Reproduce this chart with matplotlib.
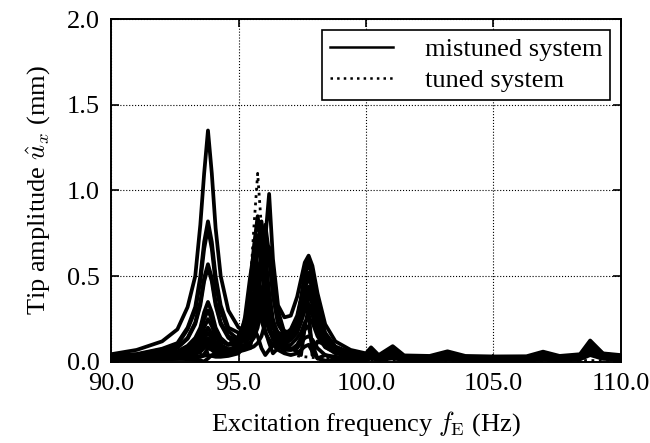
import matplotlib
matplotlib.use('Agg')
import matplotlib.pyplot as plt

# excitation frequency grid (Hz), finer around the resonances
freq = [90.0, 91.0, 92.0, 92.6, 93.0,
        93.3, 93.5, 93.65, 93.8, 93.95,
        94.1, 94.3, 94.6, 95.0, 95.25,
        95.45, 95.6, 95.75, 95.9, 96.05,
        96.2, 96.35, 96.55, 96.8, 97.05,
        97.3, 97.45, 97.6, 97.75, 97.9,
        98.1, 98.4, 98.8, 99.4, 100.0,
        100.2, 100.5, 101.05, 101.5, 102.5,
        103.2, 103.9, 105.0, 106.3, 106.95,
        107.6, 108.4, 108.8, 109.3, 110.0]

# tip amplitudes (mm) of the mistuned blades
blade1 = [0.045, 0.07, 0.12, 0.19, 0.32,
          0.5, 0.8, 1.1, 1.35, 1.1,
          0.78, 0.5, 0.3, 0.2, 0.18,
          0.2, 0.25, 0.28, 0.24, 0.17,
          0.13, 0.1, 0.095, 0.095, 0.1,
          0.14, 0.17, 0.23, 0.26, 0.23,
          0.15, 0.085, 0.055, 0.04, 0.035,
          0.07, 0.035, 0.08, 0.032, 0.028,
          0.05, 0.028, 0.024, 0.025, 0.05,
          0.028, 0.04, 0.11, 0.045, 0.035]
blade2 = [0.038, 0.046, 0.077, 0.11, 0.2,
          0.32, 0.5, 0.7, 0.82, 0.7,
          0.5, 0.33, 0.2, 0.17, 0.19,
          0.27, 0.39, 0.47, 0.39, 0.26,
          0.18, 0.14, 0.12, 0.12, 0.13,
          0.17, 0.23, 0.3, 0.34, 0.3,
          0.19, 0.1, 0.06, 0.045, 0.035,
          0.06, 0.033, 0.07, 0.03, 0.026,
          0.045, 0.026, 0.022, 0.022, 0.045,
          0.025, 0.035, 0.1, 0.042, 0.032]
blade3 = [0.036, 0.043, 0.073, 0.1, 0.19,
          0.3, 0.47, 0.66, 0.78, 0.66,
          0.46, 0.3, 0.18, 0.13, 0.16,
          0.21, 0.3, 0.45, 0.52, 0.45,
          0.3, 0.2, 0.15, 0.13, 0.14,
          0.19, 0.25, 0.34, 0.38, 0.34,
          0.21, 0.11, 0.065, 0.045, 0.034,
          0.058, 0.032, 0.068, 0.029, 0.025,
          0.042, 0.025, 0.021, 0.021, 0.042,
          0.024, 0.034, 0.095, 0.04, 0.03]
blade4 = [0.033, 0.039, 0.06, 0.085, 0.14,
          0.23, 0.35, 0.49, 0.57, 0.49,
          0.35, 0.23, 0.15, 0.12, 0.17,
          0.22, 0.33, 0.52, 0.62, 0.52,
          0.34, 0.23, 0.17, 0.14, 0.15,
          0.21, 0.28, 0.38, 0.43, 0.38,
          0.24, 0.12, 0.07, 0.046, 0.034,
          0.06, 0.033, 0.07, 0.03, 0.025,
          0.045, 0.025, 0.021, 0.021, 0.045,
          0.023, 0.033, 0.1, 0.042, 0.03]
blade5 = [0.033, 0.038, 0.059, 0.082, 0.135,
          0.22, 0.33, 0.47, 0.55, 0.47,
          0.33, 0.22, 0.14, 0.1, 0.13,
          0.18, 0.24, 0.37, 0.58, 0.73,
          0.6, 0.39, 0.23, 0.18, 0.17,
          0.24, 0.32, 0.43, 0.49, 0.43,
          0.27, 0.13, 0.075, 0.048, 0.035,
          0.065, 0.034, 0.075, 0.03, 0.026,
          0.05, 0.026, 0.022, 0.022, 0.05,
          0.024, 0.034, 0.11, 0.044, 0.031]
blade6 = [0.033, 0.036, 0.05, 0.062, 0.094,
          0.14, 0.2, 0.29, 0.35, 0.29,
          0.2, 0.14, 0.1, 0.1, 0.16,
          0.22, 0.3, 0.4, 0.52, 0.72,
          0.98, 0.6, 0.33, 0.26, 0.27,
          0.38, 0.48, 0.58, 0.62, 0.56,
          0.4, 0.22, 0.12, 0.07, 0.05,
          0.085, 0.04, 0.092, 0.038, 0.035,
          0.062, 0.035, 0.032, 0.033, 0.06,
          0.035, 0.045, 0.125, 0.05, 0.04]
blade7 = [0.031, 0.033, 0.044, 0.055, 0.08,
          0.12, 0.17, 0.25, 0.3, 0.25,
          0.17, 0.12, 0.1, 0.15, 0.24,
          0.42, 0.67, 0.85, 0.67, 0.41,
          0.27, 0.2, 0.17, 0.16, 0.19,
          0.27, 0.37, 0.51, 0.6, 0.52,
          0.33, 0.17, 0.09, 0.055, 0.04,
          0.07, 0.036, 0.08, 0.033, 0.028,
          0.055, 0.028, 0.023, 0.024, 0.055,
          0.027, 0.038, 0.115, 0.048, 0.033]
blade8 = [0.027, 0.03, 0.039, 0.048, 0.07,
          0.1, 0.14, 0.2, 0.25, 0.21,
          0.15, 0.1, 0.075, 0.08, 0.17,
          0.26, 0.4, 0.65, 0.82, 0.64,
          0.4, 0.22, 0.1, 0.14, 0.17,
          0.25, 0.36, 0.51, 0.57, 0.5,
          0.31, 0.16, 0.085, 0.05, 0.036,
          0.062, 0.035, 0.07, 0.031, 0.027,
          0.048, 0.027, 0.022, 0.022, 0.048,
          0.026, 0.036, 0.105, 0.046, 0.032]
blade9 = [0.027, 0.029, 0.036, 0.043, 0.06,
          0.08, 0.11, 0.16, 0.2, 0.165,
          0.115, 0.08, 0.07, 0.09, 0.1,
          0.08, 0.2, 0.38, 0.62, 0.8,
          0.63, 0.39, 0.22, 0.16, 0.15,
          0.24, 0.33, 0.46, 0.52, 0.46,
          0.28, 0.14, 0.075, 0.045, 0.034,
          0.058, 0.033, 0.065, 0.03, 0.026,
          0.045, 0.026, 0.021, 0.021, 0.045,
          0.025, 0.034, 0.1, 0.044, 0.03]
blade10 = [0.024, 0.025, 0.031, 0.037, 0.052,
           0.07, 0.095, 0.138, 0.17, 0.14,
           0.1, 0.07, 0.065, 0.1, 0.2,
           0.35, 0.57, 0.74, 0.57, 0.35,
           0.21, 0.15, 0.13, 0.13, 0.16,
           0.24, 0.36, 0.47, 0.3, 0.04,
           0.12, 0.1, 0.06, 0.04, 0.03,
           0.052, 0.03, 0.06, 0.028, 0.024,
           0.04, 0.024, 0.02, 0.02, 0.04,
           0.022, 0.03, 0.09, 0.04, 0.028]
blade11 = [0.023, 0.024, 0.029, 0.034, 0.046,
           0.06, 0.08, 0.115, 0.14, 0.115,
           0.082, 0.06, 0.055, 0.065, 0.09,
           0.11, 0.14, 0.2, 0.32, 0.52,
           0.67, 0.53, 0.3, 0.17, 0.16,
           0.2, 0.28, 0.39, 0.44, 0.39,
           0.24, 0.12, 0.065, 0.04, 0.03,
           0.05, 0.03, 0.056, 0.027, 0.023,
           0.038, 0.023, 0.019, 0.019, 0.038,
           0.021, 0.029, 0.085, 0.038, 0.027]
blade12 = [0.021, 0.022, 0.026, 0.03, 0.04,
           0.052, 0.068, 0.098, 0.12, 0.1,
           0.07, 0.052, 0.06, 0.1, 0.26,
           0.49, 0.64, 0.49, 0.3, 0.18,
           0.11, 0.05, 0.08, 0.1, 0.13,
           0.18, 0.25, 0.35, 0.4, 0.35,
           0.22, 0.11, 0.06, 0.038, 0.028,
           0.047, 0.028, 0.052, 0.026, 0.022,
           0.036, 0.022, 0.018, 0.018, 0.036,
           0.02, 0.028, 0.08, 0.036, 0.026]
blade13 = [0.02, 0.021, 0.024, 0.027, 0.035,
           0.045, 0.058, 0.082, 0.1, 0.084,
           0.06, 0.047, 0.045, 0.06, 0.08,
           0.11, 0.15, 0.25, 0.4, 0.52,
           0.4, 0.25, 0.15, 0.1, 0.08,
           0.06, 0.04, 0.2, 0.32, 0.27,
           0.17, 0.09, 0.05, 0.033, 0.026,
           0.042, 0.026, 0.046, 0.024, 0.02,
           0.033, 0.02, 0.017, 0.017, 0.033,
           0.019, 0.026, 0.07, 0.033, 0.024]
blade14 = [0.018, 0.019, 0.021, 0.024, 0.03,
           0.036, 0.03, 0.045, 0.08, 0.07,
           0.05, 0.04, 0.045, 0.06, 0.1,
           0.16, 0.23, 0.33, 0.41, 0.33,
           0.2, 0.13, 0.09, 0.07, 0.07,
           0.1, 0.14, 0.19, 0.21, 0.1,
           0.02, 0.04, 0.03, 0.022, 0.02,
           0.035, 0.02, 0.038, 0.02, 0.017,
           0.028, 0.017, 0.015, 0.015, 0.028,
           0.016, 0.022, 0.06, 0.028, 0.02]
blade15 = [0.016, 0.017, 0.018, 0.018, 0.016,
           0.012, 0.008, 0.003, 0.02, 0.04,
           0.045, 0.045, 0.05, 0.06, 0.07,
           0.08, 0.09, 0.11, 0.15, 0.23,
           0.31, 0.23, 0.13, 0.08, 0.07,
           0.08, 0.11, 0.14, 0.15, 0.13,
           0.08, 0.04, 0.02, 0.016, 0.014,
           0.026, 0.015, 0.028, 0.015, 0.013,
           0.022, 0.013, 0.012, 0.012, 0.022,
           0.013, 0.018, 0.05, 0.022, 0.017]
blade16 = [0.012, 0.013, 0.015, 0.017, 0.02,
           0.024, 0.03, 0.036, 0.04, 0.035,
           0.03, 0.03, 0.035, 0.05, 0.1,
           0.15, 0.2, 0.15, 0.08, 0.04,
           0.07, 0.1, 0.07, 0.05, 0.04,
           0.05, 0.07, 0.09, 0.1, 0.06,
           0.02, 0.008, 0.008, 0.01, 0.01,
           0.02, 0.012, 0.02, 0.012, 0.01,
           0.016, 0.01, 0.01, 0.01, 0.016,
           0.011, 0.015, 0.04, 0.018, 0.014]

# tuned reference system
tuned = [0.012, 0.015, 0.02, 0.026, 0.033,
         0.04, 0.045, 0.05, 0.054, 0.058,
         0.063, 0.075, 0.1, 0.16, 0.24,
         0.42, 0.78, 1.1, 0.78, 0.45,
         0.26, 0.16, 0.1, 0.065, 0.045,
         0.036, 0.032, 0.03, 0.028, 0.026,
         0.024, 0.021, 0.018, 0.015, 0.013,
         0.013, 0.012, 0.012, 0.011, 0.01,
         0.01, 0.01, 0.009, 0.008, 0.008,
         0.008, 0.008, 0.008, 0.007, 0.007]

mistuned = [blade1, blade2, blade3, blade4, blade5, blade6, blade7, blade8,
            blade9, blade10, blade11, blade12, blade13, blade14, blade15, blade16]

xticks = [90.0, 95.0, 100.0, 105.0, 110.0]
yticks = [0.0, 0.5, 1.0, 1.5, 2.0]

plt.rcParams['font.family'] = ['Liberation Serif', 'DejaVu Serif']
plt.rcParams['mathtext.fontset'] = 'cm'

fig = plt.figure(figsize=(6.5, 4.43), dpi=100)
ax = fig.add_axes([0.171, 0.183, 0.784, 0.774])

ax.plot(freq, tuned, color='black', linestyle=':', linewidth=2.0,
        label='tuned system', zorder=2)
for i, amp in enumerate(mistuned):
    ax.plot(freq, amp, color='black', linewidth=2.7, zorder=3,
            solid_joinstyle='round',
            label='mistuned system' if i == 0 else None)

ax.set_xlim(90, 110)
ax.set_ylim(0, 2.0)
ax.set_xticks(xticks)
ax.set_yticks(yticks)
ax.set_xticklabels(['%.1f' % v for v in xticks])
ax.set_yticklabels(['%.1f' % v for v in yticks])
ax.tick_params(direction='in', top=True, right=True, length=6, width=1.2,
               labelsize=19, pad=8)
ax.grid(True, linestyle=':', color='black', linewidth=0.8)
for s in ax.spines.values():
    s.set_linewidth(1.4)

ax.set_xlabel(r'Excitation frequency $f_\mathrm{E}$ (Hz)', fontsize=19, labelpad=10)
ax.set_ylabel(r'Tip amplitude $\hat{u}_x$ (mm)', fontsize=19, labelpad=10)

handles, labels = ax.get_legend_handles_labels()
order = [1, 0]
leg = ax.legend([handles[i] for i in order], [labels[i] for i in order],
                loc='upper right', fontsize=19, frameon=True, fancybox=False,
                framealpha=1, edgecolor='black', handlelength=2.4,
                handletextpad=1.2, borderpad=0.3, labelspacing=0.3,
                borderaxespad=0.4)
leg.get_frame().set_linewidth(1.2)
for line in leg.get_lines():
    line.set_linewidth(1.8)

fig.savefig('out.png', dpi=100)
